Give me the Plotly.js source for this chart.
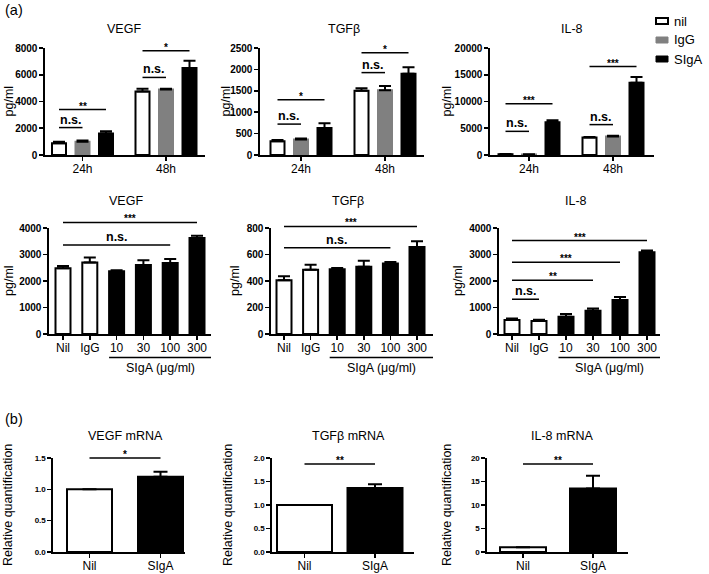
<!DOCTYPE html>
<html><head><meta charset="utf-8">
<script src="https://cdn.plot.ly/plotly-3.0.1.min.js"></script>
<style>html,body{margin:0;padding:0;background:#fff}#chart{width:709px;height:574px}</style>
</head><body><div id="chart"></div>
<script>
// ================= DATA =================
const timeCats = ['24h', '48h'];
const seriesNames = ['nil', 'IgG', 'SIgA'];
const doseCats = ['Nil', 'IgG', '10', '30', '100', '300'];
const mrnaCats = ['Nil', 'SIgA'];

// (a) top row: time course
const vegfTimeNil = [875, 4750],  vegfTimeIgG = [1000, 4900], vegfTimeSIgA = [1600, 6500];
const vegfTimeNilErr = [110, 200], vegfTimeIgGErr = [80, 60], vegfTimeSIgAErr = [180, 550];
const tgfTimeNil = [320, 1500],   tgfTimeIgG = [365, 1510],   tgfTimeSIgA = [630, 1900];
const tgfTimeNilErr = [30, 60],    tgfTimeIgGErr = [20, 100],  tgfTimeSIgAErr = [110, 150];
const il8TimeNil = [150, 3280],   il8TimeIgG = [100, 3470],   il8TimeSIgA = [6100, 13500];
const il8TimeNilErr = [50, 100],   il8TimeIgGErr = [30, 150],  il8TimeSIgAErr = [400, 1100];

// (a) middle row: dose response
const vegfDose = [2480, 2700, 2370, 2600, 2680, 3620];
const vegfDoseErr = [90, 190, 40, 180, 150, 90];
const tgfDose = [405, 484, 489, 507, 532, 656];
const tgfDoseErr = [30, 38, 10, 45, 12, 44];
const il8Dose = [525, 487, 650, 875, 1287, 3087];
const il8DoseErr = [60, 50, 100, 87, 110, 63];

// (b) mRNA
const vegfMrna = [1.0, 1.2],  vegfMrnaErr = [0, 0.08];
const tgfMrna = [1.0, 1.36],  tgfMrnaErr = [0, 0.08];
const il8Mrna = [1.0, 13.5],  il8MrnaErr = [0, 2.7];

// significance brackets
const vegfTimeSigGroup = [0, 0, 1, 1], vegfTimeSigTo = [2, 1, 2, 1];
const vegfTimeSigLevel = [3400, 2050, 7800, 5800], vegfTimeSigText = ['**', 'n.s.', '*', 'n.s.'];
const tgfTimeSigGroup = [0, 0, 1, 1], tgfTimeSigTo = [2, 1, 2, 1];
const tgfTimeSigLevel = [1290, 722, 2390, 1925], tgfTimeSigText = ['*', 'n.s.', '*', 'n.s.'];
const il8TimeSigGroup = [0, 0, 1, 1], il8TimeSigTo = [2, 1, 2, 1];
const il8TimeSigLevel = [9600, 4420, 16530, 5680], il8TimeSigText = ['***', 'n.s.', '***', 'n.s.'];

const vegfDoseSigTo = [5, 4], vegfDoseSigLevel = [4210, 3360], vegfDoseSigText = ['***', 'n.s.'];
const tgfDoseSigTo = [5, 4], tgfDoseSigLevel = [812, 651], tgfDoseSigText = ['***', 'n.s.'];
const il8DoseSigTo = [5, 4, 3, 1], il8DoseSigLevel = [3525, 2712, 2025, 1312], il8DoseSigText = ['***', '***', '**', 'n.s.'];

const vegfMrnaSigLevel = [1.5], vegfMrnaSigText = ['*'];
const tgfMrnaSigLevel = [1.87], tgfMrnaSigText = ['**'];
const il8MrnaSigLevel = [18.7], il8MrnaSigText = ['**'];

const vegfTicks = [0, 2000, 4000, 6000, 8000];
const tgfTicks = [0, 500, 1000, 1500, 2000, 2500];
const il8Ticks = [0, 5000, 10000, 15000, 20000];
const vegfDoseTicks = [0, 1000, 2000, 3000, 4000];
const tgfDoseTicks = [0, 200, 400, 600, 800];
const il8DoseTicks = [0, 1000, 2000, 3000, 4000];
const vegfMrnaTicks = [0, 0.5, 1.0, 1.5];
const tgfMrnaTicks = [0, 0.5, 1.0, 1.5, 2.0];
const il8MrnaTicks = [0, 5, 10, 15, 20];

// ================= LAYOUT HELPERS =================
const W = 709, H = 574;
const FONT = 'Liberation Sans, Arial, sans-serif';
const fx = px => px / W, fy = py => 1 - py / H;
const WHITE = '#ffffff', GREY = '#808080', BLACK = '#000000';
const seriesFill = [WHITE, GREY, BLACK];
const seriesLine = [BLACK, GREY, BLACK];

const layout = {
  width: W, height: H, margin: {l: 0, r: 0, t: 0, b: 0},
  paper_bgcolor: '#ffffff', plot_bgcolor: 'rgba(0,0,0,0)',
  showlegend: false, barmode: 'overlay',
  font: {family: FONT, color: '#000', size: 12},
  annotations: [], shapes: []
};
const traces = [];

function setupPanel(i, g) {
  const ppu = (g.y0 - g.yTop) / g.top;
  const xr = [(g.x0 - g.c0) / g.sp, (g.x1 - g.c0) / g.sp];
  layout['xaxis' + i] = {
    domain: [fx(g.x0), fx(g.x1)], range: xr, anchor: 'y' + i,
    showline: true, linewidth: 1.6, linecolor: '#000', ticks: 'outside', ticklen: 4, tickwidth: 1.6, tickcolor: '#000',
    tickvals: g.cats.map((c, k) => k), ticktext: g.cats, tickfont: {size: g.catSize, family: FONT, color: '#000'},
    ticklabelstandoff: -2,
    showgrid: false, zeroline: false, fixedrange: true
  };
  layout['yaxis' + i] = {
    domain: [fy(g.y0), fy(g.yTop)], range: [0, g.top], anchor: 'x' + i,
    showline: true, linewidth: 1.6, linecolor: '#000', ticks: 'outside', ticklen: 4, tickwidth: 1.6, tickcolor: '#000',
    tickvals: g.ticks, ticktext: g.ticks.map(v => g.dec ? v.toFixed(g.dec) : String(v)),
    tickfont: {size: g.tickSize, family: FONT, weight: 'bold', color: '#000'},
    showgrid: false, zeroline: false, fixedrange: true
  };
  layout['yaxis' + (i + 9)] = {
    domain: [fy(g.hb), fy(g.ht)], range: [-(g.hb - g.y0) / ppu, (g.y0 - g.ht) / ppu],
    anchor: 'x' + i, visible: false, fixedrange: true
  };
  layout.annotations.push({xref: 'paper', yref: 'paper', x: fx(g.titleX), y: fy(g.titleY), text: g.title,
    showarrow: false, xanchor: 'center', yanchor: 'middle', font: {size: 12.5, family: FONT, color: '#000'}});
  layout.annotations.push({xref: 'paper', yref: 'paper', x: fx(g.ytX), y: fy((g.y0 + g.yTop) / 2), text: g.ytitle,
    textangle: -90, showarrow: false, xanchor: 'center', yanchor: 'middle', font: {size: g.ytSize || 12.5, family: FONT, color: '#000'}});
  return {ppu, xr};
}

function errY(arr) {
  return {type: 'data', symmetric: false, array: arr, arrayminus: arr.map(() => 0),
          color: '#000', thickness: 2, width: 6};
}

function sigLines(i, xs0, xs1, levels, texts) {
  const xs = [], ys = [];
  levels.forEach((lv, k) => {
    xs.push(xs0[k], xs1[k], null); ys.push(lv, lv, null);
    const isNS = texts[k] === 'n.s.';
    layout.annotations.push({xref: 'x' + i, yref: 'y' + (i + 9), x: (xs0[k] + xs1[k]) / 2, y: lv,
      text: texts[k], showarrow: false, xanchor: 'center', yanchor: 'bottom',
      yshift: isNS ? -1 : -4,
      font: {size: isNS ? 12.5 : 10, family: FONT, weight: 'bold', color: '#000'}});
  });
  traces.push({type: 'scatter', mode: 'lines', x: xs, y: ys, xaxis: 'x' + i, yaxis: 'y' + (i + 9),
    line: {color: '#000', width: 1.5}, hoverinfo: 'skip', showlegend: false});
}

// ---------- Row 1: grouped time-course panels ----------
function timePanel(i, g, series, errs, sigGroup, sigTo, sigLevel, sigText) {
  setupPanel(i, Object.assign({cats: timeCats, catSize: 12, tickSize: 10, ytitle: 'pg/ml'}, g));
  const slot = g.slot / g.sp, bw = g.bw / g.sp;
  series.forEach((vals, s) => {
    traces.push({type: 'bar', name: seriesNames[s], x: timeCats.map((c, k) => k), y: vals,
      width: bw, offset: -bw / 2 + (s - 1) * slot, xaxis: 'x' + i, yaxis: 'y' + i,
      marker: {color: seriesFill[s], line: {color: seriesLine[s], width: 2}},
      error_y: errY(errs[s]), hoverinfo: 'skip'});
  });
  const x0s = sigGroup.map(gk => gk - slot);
  const x1s = sigGroup.map((gk, k) => gk + (sigTo[k] - 1) * slot);
  sigLines(i, x0s, x1s, sigLevel, sigText);
}

const row1 = {y0: 155, yTop: 48, hb: 180, ht: 18, slot: 23.5, bw: 14, titleY: 29};
timePanel(1, Object.assign({}, row1, {x0: 45, x1: 205, c0: 82.5, sp: 83.5, top: 8000, ticks: vegfTicks, title: 'VEGF', titleX: 124, ytX: 9}),
  [vegfTimeNil, vegfTimeIgG, vegfTimeSIgA], [vegfTimeNilErr, vegfTimeIgGErr, vegfTimeSIgAErr],
  vegfTimeSigGroup, vegfTimeSigTo, vegfTimeSigLevel, vegfTimeSigText);
timePanel(2, Object.assign({}, row1, {x0: 260, x1: 424, c0: 301, sp: 84, top: 2500, ticks: tgfTicks, title: 'TGFβ', titleX: 344, ytX: 226}),
  [tgfTimeNil, tgfTimeIgG, tgfTimeSIgA], [tgfTimeNilErr, tgfTimeIgGErr, tgfTimeSIgAErr],
  tgfTimeSigGroup, tgfTimeSigTo, tgfTimeSigLevel, tgfTimeSigText);
timePanel(3, Object.assign({}, row1, {x0: 490, x1: 654, c0: 529, sp: 84, top: 20000, ticks: il8Ticks, title: 'IL-8', titleX: 572, ytX: 447}),
  [il8TimeNil, il8TimeIgG, il8TimeSIgA], [il8TimeNilErr, il8TimeIgGErr, il8TimeSIgAErr],
  il8TimeSigGroup, il8TimeSigTo, il8TimeSigLevel, il8TimeSigText);

// ---------- Row 2: dose panels ----------
function dosePanel(i, g, vals, errs, sigTo, sigLevel, sigText) {
  const info = setupPanel(i, Object.assign({cats: doseCats, catSize: 12, tickSize: 10, ytitle: 'pg/ml'}, g));
  const bw = g.bw / g.sp;
  traces.push({type: 'bar', x: doseCats.map((c, k) => k), y: vals, width: bw, xaxis: 'x' + i, yaxis: 'y' + i,
    marker: {color: doseCats.map((c, k) => k < 2 ? WHITE : BLACK), line: {color: BLACK, width: 2}},
    error_y: errY(errs), hoverinfo: 'skip'});
  sigLines(i, sigTo.map(() => 0), sigTo, sigLevel, sigText);
  const uy = -(g.underY - g.y0) / info.ppu, ly = -(g.labelY - g.y0) / info.ppu;
  const ux0 = 2 - bw / 2, ux1 = info.xr[1];
  traces.push({type: 'scatter', mode: 'lines', x: [ux0, ux1], y: [uy, uy], xaxis: 'x' + i, yaxis: 'y' + (i + 9),
    line: {color: '#000', width: 1.5}, hoverinfo: 'skip', showlegend: false});
  layout.annotations.push({xref: 'x' + i, yref: 'y' + (i + 9), x: (ux0 + ux1) / 2, y: ly, text: 'SIgA (μg/ml)',
    showarrow: false, xanchor: 'center', yanchor: 'middle', font: {size: 12.5, family: FONT, color: '#000'}});
}
const row2 = {y0: 334, yTop: 228, hb: 380, ht: 188, bw: 15, titleY: 201, underY: 357.5, labelY: 368};
dosePanel(4, Object.assign({}, row2, {x0: 49, x1: 211, c0: 63, sp: 26.8, top: 4000, ticks: vegfDoseTicks, title: 'VEGF', titleX: 126, ytX: 9}),
  vegfDose, vegfDoseErr, vegfDoseSigTo, vegfDoseSigLevel, vegfDoseSigText);
dosePanel(5, Object.assign({}, row2, {x0: 271, x1: 433, c0: 284, sp: 26.6, top: 800, ticks: tgfDoseTicks, title: 'TGFβ', titleX: 348, ytX: 235}),
  tgfDose, tgfDoseErr, tgfDoseSigTo, tgfDoseSigLevel, tgfDoseSigText);
dosePanel(6, Object.assign({}, row2, {x0: 499, x1: 660, c0: 512, sp: 27, top: 4000, ticks: il8DoseTicks, title: 'IL-8', titleX: 576, ytX: 458}),
  il8Dose, il8DoseErr, il8DoseSigTo, il8DoseSigLevel, il8DoseSigText);

// ---------- Row 3: mRNA panels ----------
function mrnaPanel(i, g, vals, errs, sigLevel, sigText) {
  setupPanel(i, Object.assign({cats: mrnaCats, catSize: 12, tickSize: 8, ytitle: 'Relative quantification', ytSize: 12.5}, g));
  const bw = g.bw / g.sp;
  traces.push({type: 'bar', x: mrnaCats.map((c, k) => k), y: vals, width: bw, xaxis: 'x' + i, yaxis: 'y' + i,
    marker: {color: [WHITE, BLACK], line: {color: BLACK, width: 2}},
    error_y: Object.assign(errY(errs), {width: 7}), hoverinfo: 'skip'});
  sigLines(i, sigLevel.map(() => 0), sigLevel.map(() => 1), sigLevel, sigText);
}
const row3 = {y0: 552, yTop: 458, hb: 572, ht: 440, titleY: 436};
mrnaPanel(7, Object.assign({}, row3, {x0: 53, x1: 185, c0: 89.5, sp: 71, bw: 45, top: 1.5, ticks: vegfMrnaTicks, dec: 1, title: 'VEGF mRNA', titleX: 125, ytX: 8}),
  vegfMrna, vegfMrnaErr, vegfMrnaSigLevel, vegfMrnaSigText);
mrnaPanel(8, Object.assign({}, row3, {x0: 272, x1: 414, c0: 304.5, sp: 70.5, bw: 55, top: 2.0, ticks: tgfMrnaTicks, dec: 1, title: 'TGFβ mRNA', titleX: 348, ytX: 228}),
  tgfMrna, tgfMrnaErr, tgfMrnaSigLevel, tgfMrnaSigText);
mrnaPanel(9, Object.assign({}, row3, {x0: 487, x1: 628, c0: 523, sp: 70, bw: 46, top: 20, ticks: il8MrnaTicks, title: 'IL-8 mRNA', titleX: 562, ytX: 447}),
  il8Mrna, il8MrnaErr, il8MrnaSigLevel, il8MrnaSigText);

// ---------- panel letters ----------
layout.annotations.push({xref: 'paper', yref: 'paper', x: fx(3), y: fy(10), text: '(a)', showarrow: false,
  xanchor: 'left', yanchor: 'middle', font: {size: 14.5, family: FONT, color: '#000'}});
layout.annotations.push({xref: 'paper', yref: 'paper', x: fx(3), y: fy(419), text: '(b)', showarrow: false,
  xanchor: 'left', yanchor: 'middle', font: {size: 14.5, family: FONT, color: '#000'}});

// ---------- legend (drawn manually, GraphPad style) ----------
const legendY = [21, 40, 59];
seriesNames.forEach((name, s) => {
  layout.shapes.push({type: 'rect', xref: 'paper', yref: 'paper', x0: fx(656), x1: fx(668),
    y0: fy(legendY[s] + 3), y1: fy(legendY[s] - 3), fillcolor: seriesFill[s],
    line: {color: seriesLine[s], width: s === 0 ? 2 : 1}});
  layout.annotations.push({xref: 'paper', yref: 'paper', x: fx(672), y: fy(legendY[s]), text: name,
    showarrow: false, xanchor: 'left', yanchor: 'middle', font: {size: 13, family: FONT, color: '#000'}});
});

Plotly.newPlot('chart', traces, layout, {staticPlot: true, displayModeBar: false});
</script></body></html>
